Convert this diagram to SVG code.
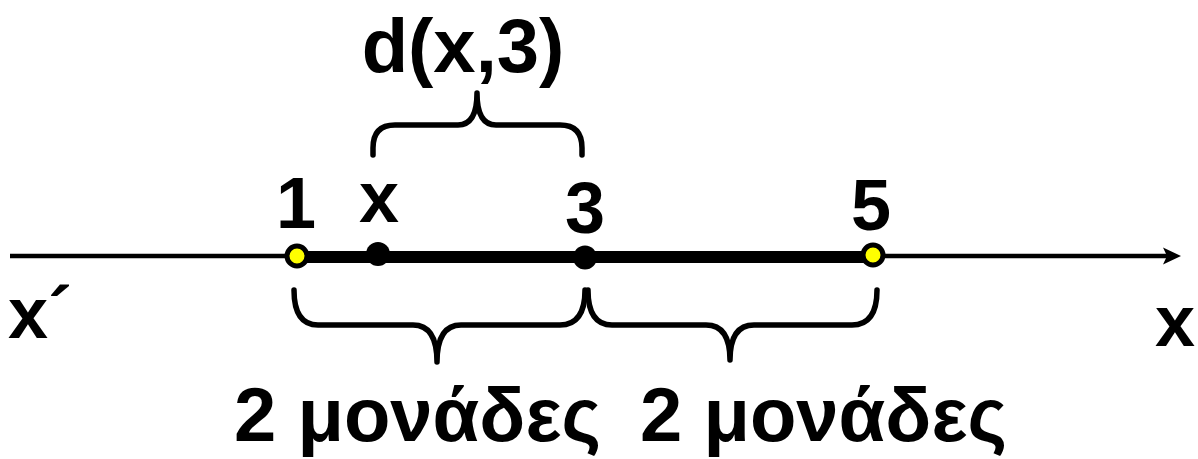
<svg xmlns="http://www.w3.org/2000/svg" width="1198" height="459" viewBox="0 0 1198 459">
<style>
text{font-family:"Liberation Sans",Arial,sans-serif;font-weight:bold;fill:#000}
.lbl{font-size:72px}
.big{font-size:76px}
.brace{fill:none;stroke:#000;stroke-width:5.5;stroke-linecap:round;stroke-linejoin:round}
.open{fill:#ffff00;stroke:#000;stroke-width:5}
.dot{fill:#000}
</style>
<rect width="1198" height="459" fill="#fff"/>
<g id="connectors">
<line x1="10" y1="256" x2="1168" y2="256" stroke="#000" stroke-width="4.5"/>
<path d="M1181,256 L1163,247.5 L1167,256 L1163,264.5 Z" fill="#000"/>
<line x1="297" y1="257" x2="873" y2="257" stroke="#000" stroke-width="12"/>
</g>
<g id="brace-top">
<path class="brace" d="M373,155 L373,148 Q373,125 395,125 L458,125 Q477,125 477,93 Q477,125 496,125 L560,125 Q582,125 582,148 L582,155"/>
</g>
<g id="brace-left">
<path class="brace" d="M294,290 Q294,325 318,325 L413,325 Q437,325 437,362 Q437,325 461,325 L560,325 Q585,325 585,290"/>
</g>
<g id="brace-right">
<path class="brace" d="M588,290 Q588,325 612,325 L706,325 Q730,325 730,360 Q730,325 754,325 L852,325 Q877,325 877,290"/>
</g>
<g id="point-1"><circle class="open" cx="297" cy="256" r="10"/><text class="lbl" x="296" y="228" text-anchor="middle">1</text></g>
<g id="point-x"><circle class="dot" cx="378" cy="254" r="12"/><text class="lbl" x="379" y="222" text-anchor="middle">x</text></g>
<g id="point-3"><circle class="dot" cx="585" cy="257.5" r="12"/><text class="lbl" x="585" y="233" text-anchor="middle">3</text></g>
<g id="point-5"><circle class="open" cx="873" cy="255" r="10"/><text class="lbl" x="871" y="230" text-anchor="middle">5</text></g>
<g id="label-d"><text class="big" x="463" y="72" text-anchor="middle">d(x,3)</text></g>
<g id="label-xprime"><text class="lbl" x="8" y="338">x´</text></g>
<g id="label-x"><text class="lbl" x="1155" y="346">x</text></g>
<g id="label-left"><text class="big" x="234" y="441">2 μονάδες</text></g>
<g id="label-right"><text class="big" x="640" y="441">2 μονάδες</text></g>
</svg>
